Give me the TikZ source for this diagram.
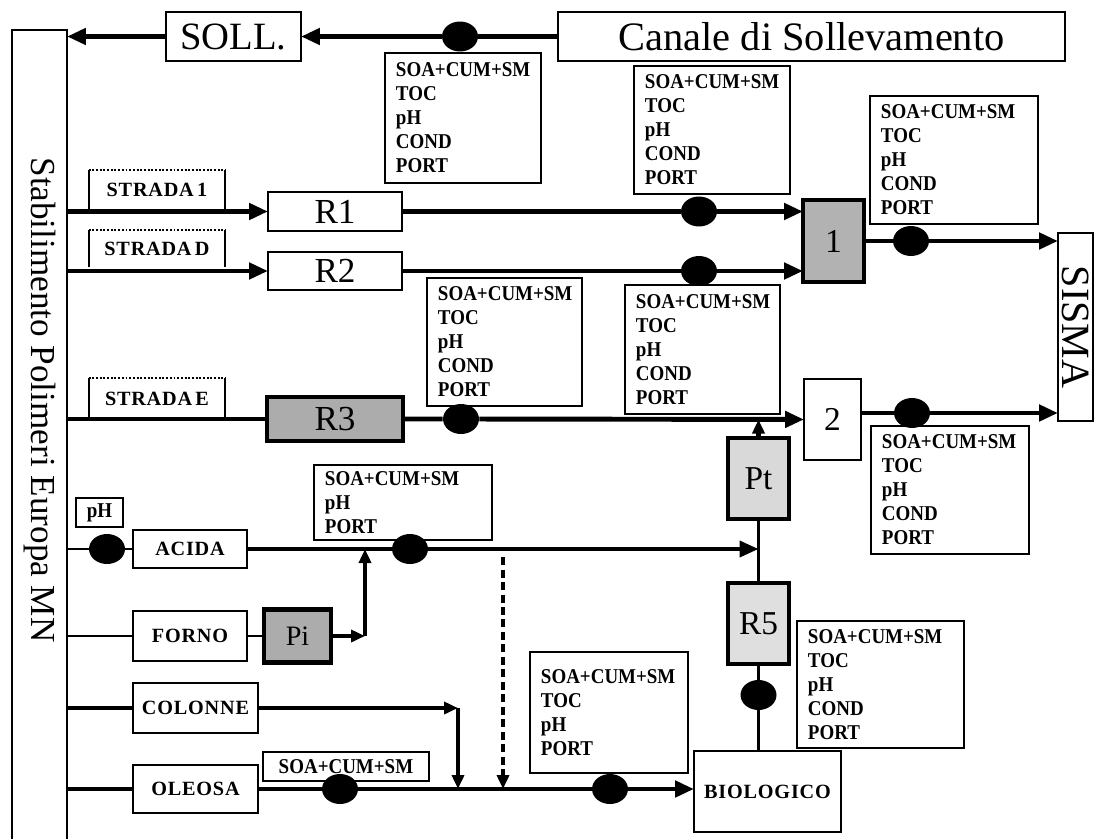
\documentclass[tikz,border=0pt]{standalone}
\usepackage{fontspec}
\setmainfont{Liberation Serif}
\newfontfamily\tagfamily[LetterSpace=4]{Liberation Serif}
\newfontfamily\infofamily[FakeStretch=0.9]{Liberation Serif}
\usetikzlibrary{arrows.meta, shapes.geometric}

\newcommand{\infofont}{\infofamily\fontsize{12}{13.7}\selectfont\bfseries}
\newcommand{\tagfont}{\tagfamily\fontsize{11.5}{13}\selectfont\bfseries}
\newcommand{\bigfont}{\fontsize{22}{26}\selectfont}
\newcommand{\midfont}{\fontsize{19}{22}\selectfont}
\newcommand{\listfive}{SOA+CUM+SM\\TOC\\pH\\COND\\PORT}

\begin{document}
\begin{tikzpicture}[x=0.02cm, y=-0.02cm,
  box/.style={draw, line width=1.1pt, fill=white, inner sep=0pt, outer sep=0pt},
  heavy/.style={draw, line width=2.6pt, inner sep=0pt, outer sep=0pt},
  info/.style={draw, line width=1.1pt, fill=white, anchor=north west, align=left,
    inner xsep=0.22cm, inner ysep=0pt, font=\infofont},
  tag/.style={inner sep=0pt, minimum width=2.72cm, font=\tagfont},
  dot/.style={ellipse, fill=black, inner sep=0pt, minimum width=0.72cm, minimum height=0.6cm},
  flow/.style={line width=2.8pt},
  medflow/.style={line width=2.2pt},
  thinline/.style={line width=1.5pt},
  dashline/.style={line width=2pt, dash pattern=on 0.16cm off 0.09cm},
  arr/.style={-{Triangle[length=0.38cm,width=0.32cm]}},
  sarr/.style={-{Triangle[length=0.28cm,width=0.24cm]}}]
  \useasboundingbox (0,0) rectangle (1094,838);
  % Stabilimento (sinistra)
  \node[box, minimum width=1.1cm, minimum height=16.4cm] (stab) at (39.5,440) {};
  \node[rotate=-90, font=\fontsize{20}{24}\selectfont] (stabtxt) at (40,400) {Stabilimento Polimeri Europa MN};
  % Sollevamento (in alto)
  \node[box, minimum width=2.7cm, minimum height=0.98cm, font=\bigfont] (soll) at (233.5,36.5) {SOLL.};
  \node[box, minimum width=10.14cm, minimum height=0.98cm, font=\fontsize{23}{27}\selectfont] (canale) at (811.5,36.5) {Canale di Sollevamento};
  % Riquadri dei parametri
  \node[info, text width=2.68cm, minimum height=2.6cm] (i1) at (384,52) {\listfive};
  \node[info, text width=2.68cm, minimum height=2.56cm] (i2) at (633,65) {\listfive};
  \node[info, text width=2.92cm, minimum height=2.56cm] (i3) at (869,95) {\listfive};
  \node[info, text width=2.66cm, minimum height=2.56cm] (i4) at (426,277) {\listfive};
  \node[info, text width=2.66cm, minimum height=2.58cm] (i5) at (624,284) {\listfive};
  \node[info, text width=2.72cm, minimum height=2.56cm] (i6) at (870,425) {\listfive};
  \node[info, text width=3.12cm, minimum height=1.5cm] (i7) at (313,464) {SOA+CUM+SM\\pH\\PORT};
  \node[info, text width=2.72cm, minimum height=2.42cm] (i8) at (529,651) {SOA+CUM+SM\\TOC\\pH\\PORT};
  \node[info, text width=2.9cm, minimum height=2.54cm] (i9) at (796,620) {\listfive};
  \node[info, text width=2.88cm, minimum height=0.58cm, align=center] (i10) at (262,751) {SOA+CUM+SM};
  % Strade
  \foreach \n/\y/\h/\txt in {1/190/0.8cm/STRADA\,1, 2/248.5/0.74cm/STRADA\,D, 3/399/0.84cm/STRADA\,E} {
    \node[tag, minimum height=\h] (lbl\n) at (157,\y) {\txt};
    \draw[line width=1.1pt] (lbl\n.south west) -- (lbl\n.north west);
    \draw[line width=1.1pt, densely dotted] (lbl\n.north west) -- (lbl\n.north east);
    \draw[line width=1.1pt] (lbl\n.north east) -- (lbl\n.south east);
  }
  % Reattori e vasche
  \node[box, minimum width=2.68cm, minimum height=0.78cm, font=\fontsize{20}{24}\selectfont] (r1) at (335,211.5) {R1};
  \node[box, minimum width=2.68cm, minimum height=0.76cm, font=\fontsize{20}{24}\selectfont] (r2) at (335,271) {R2};
  \node[heavy, fill=gray!65, minimum width=2.72cm, minimum height=0.88cm, font=\fontsize{20}{24}\selectfont] (r3) at (335,419) {R3};
  \node[heavy, fill=gray!60, minimum width=1.22cm, minimum height=1.64cm, font=\midfont] (b1) at (833.5,241) {1};
  \node[box, minimum width=1.14cm, minimum height=1.62cm, font=\midfont] (b2) at (832.5,419.5) {2};
  \node[heavy, fill=gray!30, minimum width=1.22cm, minimum height=1.62cm, font=\midfont] (pt) at (758.5,478.5) {Pt};
  \node[heavy, fill=gray!25, minimum width=1.22cm, minimum height=1.62cm, font=\midfont] (r5) at (758.5,623.5) {R5};
  \node[heavy, fill=gray!65, minimum width=1.34cm, minimum height=1.06cm, font=\fontsize{16}{19}\selectfont] (pi) at (297.5,636) {Pi};
  \node[box, rotate=-90, minimum width=3.76cm, minimum height=0.7cm, font=\fontsize{22.8}{26}\selectfont] (sisma) at (1075.5,327) {SISMA};
  \node[box, minimum width=2.94cm, minimum height=1.62cm, font=\tagfont] (bio) at (767.5,791.5) {BIOLOGICO};
  % Scarichi (sinistra)
  \node[box, minimum width=0.94cm, minimum height=0.58cm, font=\infofont] (ph) at (99.5,512.5) {pH};
  \node[box, minimum width=2.28cm, minimum height=0.76cm, font=\tagfont] (acida) at (190,549) {ACIDA};
  \node[box, minimum width=2.28cm, minimum height=1.0cm, font=\tagfont] (forno) at (190,636) {FORNO};
  \node[box, minimum width=2.5cm, minimum height=1.0cm, font=\tagfont] (colonne) at (195.5,708) {COLONNE};
  \node[box, minimum width=2.5cm, minimum height=0.96cm, font=\tagfont] (oleosa) at (195.5,789) {OLEOSA};
  % Punti di campionamento
  \node[dot] (d0) at (460,36.5) {};
  \node[dot] (d1) at (699,211.5) {};
  \node[dot] (d2) at (699,271) {};
  \node[dot] (d3) at (911,241) {};
  \node[dot] (d4) at (461,419) {};
  \node[dot] (d5) at (912,413) {};
  \node[dot] (d6) at (107,549) {};
  \node[dot] (d7) at (410,549) {};
  \node[dot] (d8) at (340,789) {};
  \node[dot] (d9) at (610,789) {};
  \node[dot] (d10) at (758.5,695) {};
  % Flussi principali
  \draw[flow, arr] (canale) -- (d0) -- (soll);
  \draw[flow, arr] (soll) -- (soll -| stab.east);
  \draw[flow, arr] (stab.east |- r1) -- (r1);
  \draw[flow, arr] (r1) -- (d1) -- (d1 -| b1.west);
  \draw[flow, arr] (stab.east |- r2) -- (r2);
  \draw[flow, arr] (r2) -- (d2) -- (d2 -| b1.west);
  \draw[flow, arr] (b1) -- (d3) -- (d3 -| sisma.south);
  \draw[flow] (stab.east |- r3) -- (r3);
  \draw[flow, arr] (r3) -- (d4) -- (b2);
  \draw[flow, arr] (d5 -| b2.east) -- (d5) -- (d5 -| sisma.south);
  % Linea Pt / R5 / biologico
  \draw[flow, sarr] (pt) -- (pt |- b2);
  \draw[medflow] (r5) -- (pt);
  \draw[medflow] (bio.north -| r5) -- (d10) -- (r5);
  % Acida e forno
  \draw[thinline] (stab.east |- acida) -- (d6) -- (acida);
  \draw[medflow, arr] (acida) -- (d7) -- (d7 -| pt);
  \coordinate (jf) at (365,636);
  \draw[thinline] (stab.east |- forno) -- (forno);
  \draw[thinline] (forno) -- (pi);
  \draw[medflow, sarr] (pi) -- (jf);
  \draw[medflow, sarr] (jf) -- (jf |- acida);
  % Colonne e oleosa
  \coordinate (jc) at (458,708);
  \draw[flow] (stab.east |- colonne) -- (colonne);
  \draw[medflow, sarr] (colonne) -- (jc);
  \draw[medflow, sarr] (jc) -- (jc |- oleosa);
  \draw[flow] (stab.east |- oleosa) -- (oleosa);
  \draw[flow, arr] (oleosa) -- (d8) -- (d9) -- (d9 -| bio.west);
  \coordinate (jd) at (503,557);
  \draw[dashline, sarr] (jd) -- (jd |- oleosa);
\end{tikzpicture}
\end{document}
